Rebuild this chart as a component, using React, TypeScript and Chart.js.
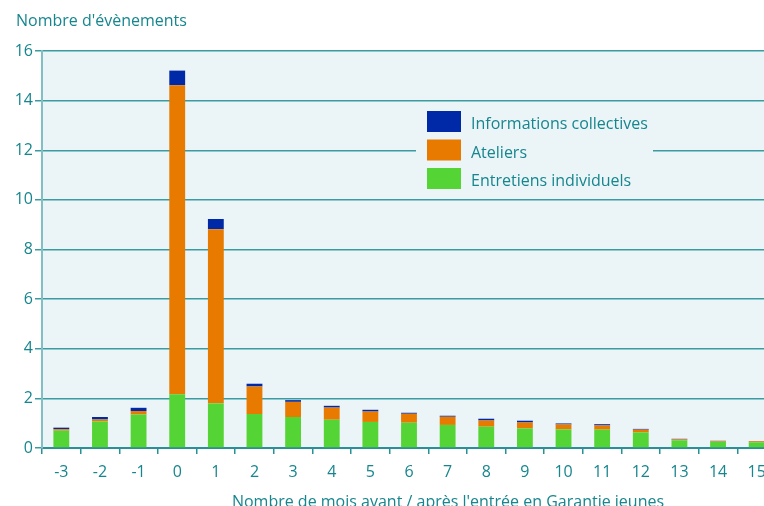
import React, { useEffect, useRef } from "react";
import { Chart, registerables } from "chart.js";

Chart.register(...registerables);

const categories = ["-3", "-2", "-1", "0", "1", "2", "3", "4", "5", "6", "7", "8", "9", "10", "11", "12", "13", "14", "15"];
const entretiens = [0.70, 1.07, 1.35, 2.17, 1.80, 1.37, 1.25, 1.14, 1.05, 1.02, 0.93, 0.86, 0.79, 0.75, 0.74, 0.63, 0.31, 0.25, 0.23];
const ateliers = [0.06, 0.08, 0.14, 12.45, 7.02, 1.11, 0.61, 0.49, 0.42, 0.36, 0.33, 0.25, 0.24, 0.20, 0.17, 0.11, 0.04, 0.03, 0.04];
const informations = [0.06, 0.10, 0.13, 0.59, 0.41, 0.11, 0.07, 0.07, 0.07, 0.04, 0.04, 0.07, 0.07, 0.04, 0.05, 0.03, 0.02, 0.01, 0.01];
const yTicks = [0, 2, 4, 6, 8, 10, 12, 14, 16];
const yTitle = "Nombre d'évènements";
const xTitle = "Nombre de mois avant / après l'entrée en Garantie jeunes";

const TEXT = "#16868e";
const GRID = "#3a9ba1";
const AXIS_Y = "#80bfc4";
const AXIS_X = "#2a9097";
const PLOT_BG = "#ebf4f7";
const FONT = "'Open Sans', 'Noto Sans', sans-serif";

const decorPlugin = {
  id: "decor",
  beforeDraw(chart: any) {
    const { ctx, chartArea } = chart;
    ctx.save();
    ctx.fillStyle = PLOT_BG;
    ctx.fillRect(chartArea.left, chartArea.top, chartArea.right - chartArea.left, chartArea.bottom - chartArea.top);
    ctx.restore();
  },
  afterDraw(chart: any) {
    const { ctx } = chart;
    ctx.save();
    // legend background
    ctx.fillStyle = PLOT_BG;
    ctx.fillRect(416, 104, 237, 92);
    const ds = chart.data.datasets.slice().reverse();
    ctx.font = `16px ${FONT}`;
    ctx.textBaseline = "alphabetic";
    ctx.textAlign = "left";
    ds.forEach((d: any, i: number) => {
      const top = 111 + i * 28.5;
      ctx.fillStyle = d.backgroundColor;
      ctx.fillRect(427, top, 34, 21);
      ctx.fillStyle = TEXT;
      ctx.fillText(d.label, 471, top + 18);
    });
    // titles
    ctx.fillStyle = TEXT;
    ctx.fillText(yTitle, 16, 26);
    ctx.textAlign = "center";
    ctx.fillText(xTitle, 448, 507);
    ctx.restore();
  },
};

export default function App() {
  const ref = useRef<HTMLCanvasElement>(null);
  useEffect(() => {
    if (!ref.current) return;
    const chart = new Chart(ref.current, {
      type: "bar",
      data: {
        labels: categories,
        datasets: [
          { label: "Entretiens individuels", data: entretiens, backgroundColor: "#55d435" },
          { label: "Ateliers", data: ateliers, backgroundColor: "#e87a00" },
          { label: "Informations collectives", data: informations, backgroundColor: "#0029a8" },
        ],
      },
      options: {
        animation: false,
        responsive: false,
        devicePixelRatio: 1,
        layout: { padding: { top: 51, left: 0, right: 0, bottom: 0 } },
        datasets: { bar: { categoryPercentage: 1, barPercentage: 0.41, borderWidth: 0 } },
        plugins: {
          legend: { display: false },
          title: { display: false },
          tooltip: { enabled: false },
        },
        scales: {
          x: {
            stacked: true,
            afterFit: (s: any) => { s.height = 58; },
            grid: { drawOnChartArea: false, drawTicks: true, tickLength: 6, color: AXIS_X, lineWidth: 1.5 },
            border: { color: AXIS_X, width: 2 },
            ticks: { color: TEXT, font: { family: FONT, size: 16 }, padding: 9, maxRotation: 0 },
          },
          y: {
            stacked: true,
            min: 0,
            max: 16,
            afterFit: (s: any) => { s.width = 42; },
            afterBuildTicks: (s: any) => { s.ticks = yTicks.map((v) => ({ value: v })); },
            grid: { color: GRID, lineWidth: 1.5, tickLength: 7 },
            border: { color: AXIS_Y, width: 2 },
            ticks: { color: TEXT, font: { family: FONT, size: 16 }, padding: 2 },
          },
        },
      },
      plugins: [decorPlugin],
    });
    return () => chart.destroy();
  }, []);
  return (
    <div style={{ position: "fixed", left: 0, top: 0, width: 764, height: 506, overflow: "hidden", background: "#fff" }}>
      <canvas ref={ref} width={776} height={506} style={{ width: 776, height: 506, display: "block" }} />
    </div>
  );
}
